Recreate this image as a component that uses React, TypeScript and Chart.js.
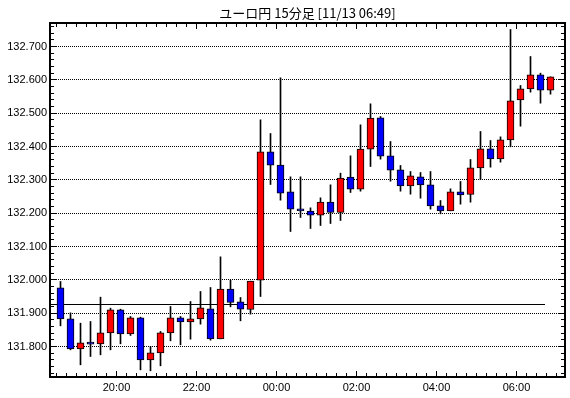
import React, { useEffect, useRef } from "react";
import { Chart, registerables } from "chart.js";

Chart.register(...registerables);

const TITLE = "ユーロ円 15分足 [11/13 06:49]";

// 15-minute candles, 18:30 .. 06:45
const OPEN = [
  131.976, 131.883, 131.793, 131.811, 131.808, 131.841, 131.910, 131.838, 131.886, 131.760,
  131.781, 131.841, 131.886, 131.874, 131.883, 131.913, 131.823, 131.972, 131.934, 131.911,
  131.999, 132.384, 132.344, 132.264, 132.213, 132.206, 132.194, 132.233, 132.202, 132.308,
  132.272, 132.392, 132.486, 132.372, 132.330, 132.282, 132.309, 132.285, 132.222, 132.207,
  132.264, 132.256, 132.336, 132.393, 132.363, 132.420, 132.540, 132.573, 132.615, 132.569,
];
const HIGH = [
  131.995, 131.901, 131.870, 131.875, 131.948, 131.915, 131.912, 131.890, 131.888, 131.800,
  131.845, 131.920, 131.890, 131.935, 131.965, 131.977, 132.069, 131.999, 131.947, 131.996,
  132.480, 132.439, 132.606, 132.309, 132.309, 132.216, 132.246, 132.285, 132.320, 132.372,
  132.465, 132.528, 132.490, 132.415, 132.343, 132.325, 132.322, 132.325, 132.238, 132.273,
  132.295, 132.361, 132.445, 132.418, 132.429, 132.751, 132.583, 132.670, 132.620, 132.609,
];
const LOW = [
  131.862, 131.790, 131.745, 131.770, 131.775, 131.790, 131.808, 131.833, 131.730, 131.727,
  131.742, 131.817, 131.805, 131.822, 131.867, 131.819, 131.823, 131.919, 131.877, 131.897,
  131.950, 132.286, 132.239, 132.145, 132.187, 132.154, 132.163, 132.169, 132.178, 132.262,
  132.266, 132.340, 132.362, 132.296, 132.266, 132.257, 132.245, 132.212, 132.198, 132.207,
  132.227, 132.233, 132.301, 132.338, 132.353, 132.399, 132.461, 132.563, 132.530, 132.557,
];
const CLOSE = [
  131.883, 131.793, 131.811, 131.807, 131.841, 131.910, 131.838, 131.886, 131.760, 131.781,
  131.841, 131.886, 131.874, 131.883, 131.916, 131.823, 131.972, 131.932, 131.912, 131.996,
  132.384, 132.344, 132.260, 132.212, 132.207, 132.194, 132.233, 132.202, 132.305, 132.272,
  132.392, 132.485, 132.371, 132.329, 132.282, 132.312, 132.285, 132.222, 132.207, 132.264,
  132.255, 132.336, 132.393, 132.363, 132.420, 132.537, 132.573, 132.615, 132.569, 132.609,
];

const TIME_LABELS = ["20:00", "22:00", "00:00", "02:00", "04:00", "06:00"];
const TIME_LABEL_SLOTS = [6, 14, 22, 30, 38, 46];
const Y_TICKS = [131.8, 131.9, 132.0, 132.1, 132.2, 132.3, 132.4, 132.5, 132.6, 132.7];
const REF_LEVEL = 131.926;
const REF_END_SLOT = 48.45;

const X_MIN = -1.05;
const X_MAX = 50.45;
const Y_MIN = 131.7085;
const Y_MAX = 132.7705;
const TICK_SHIFT = -0.4;

const UP = "#ff0000";
const DOWN = "#0000ff";

const framePlugin = {
  id: "frameTicks",
  afterDatasetsDraw(chart: any) {
    const { ctx, chartArea: a, scales } = chart;
    const xs = scales.x;
    const ys = scales.y;
    ctx.save();
    ctx.strokeStyle = "#000";
    ctx.lineWidth = 1;
    ctx.beginPath();
    for (let k = 0; k <= 50; k++) {
      const px = Math.round(xs.getPixelForValue(k + TICK_SHIFT) - 0.5) + 0.5;
      const len = TIME_LABEL_SLOTS.includes(k) ? 6 : 4;
      ctx.moveTo(px, a.top);
      ctx.lineTo(px, a.top + len);
      ctx.moveTo(px, a.bottom);
      ctx.lineTo(px, a.bottom - len);
    }
    for (let n = 6586; n <= 6638; n++) {
      const v = n * 0.02;
      const py = Math.round(ys.getPixelForValue(v) - 0.5) + 0.5;
      const len = n % 5 === 0 ? 6 : 4;
      ctx.moveTo(a.left, py);
      ctx.lineTo(a.left + len, py);
      ctx.moveTo(a.right, py);
      ctx.lineTo(a.right - len, py);
    }
    ctx.stroke();
    ctx.lineWidth = 2;
    ctx.strokeRect(a.left, a.top, a.right - a.left, a.bottom - a.top);
    ctx.restore();
  },
};

export default function App() {
  const ref = useRef<HTMLCanvasElement | null>(null);

  useEffect(() => {
    document.body.style.margin = "0";
    const canvas = ref.current;
    if (!canvas) return;

    const idx = OPEN.map((_, i) => i);
    const colors = idx.map((i) => (CLOSE[i] >= OPEN[i] ? UP : DOWN));

    const chart = new Chart(canvas, {
      type: "bar",
      data: {
        datasets: [
          {
            type: "bar",
            label: "body",
            data: idx.map((i) => ({ x: i, y: [OPEN[i], CLOSE[i]] })) as any,
            backgroundColor: colors,
            borderColor: "#000",
            borderWidth: 1,
            borderSkipped: false,
            barThickness: 7,
            minBarLength: 2,
            grouped: false,
            order: 1,
          } as any,
          {
            type: "bar",
            label: "wick",
            data: idx.map((i) => ({ x: i, y: [LOW[i], HIGH[i]] })) as any,
            backgroundColor: "#000",
            borderWidth: 0,
            barThickness: 1,
            grouped: false,
            order: 2,
          } as any,
          {
            type: "line",
            label: "ref",
            data: [
              { x: X_MIN, y: REF_LEVEL },
              { x: REF_END_SLOT, y: REF_LEVEL },
            ],
            borderColor: "#000",
            borderWidth: 1,
            pointRadius: 0,
            order: 3,
          } as any,
        ],
      },
      options: {
        responsive: false,
        animation: false,
        devicePixelRatio: 1,
        layout: { padding: { left: 0, right: 5, top: 0, bottom: 0 } },
        plugins: {
          legend: { display: false },
          tooltip: { enabled: false },
          title: {
            display: true,
            text: TITLE,
            fullSize: false,
            color: "#000",
            font: { family: "'Noto Sans CJK JP', sans-serif", size: 13, weight: "normal", lineHeight: 1.2 },
            padding: { top: 5, bottom: 2.4 },
          },
        },
        scales: {
          x: {
            type: "linear",
            min: X_MIN,
            max: X_MAX,
            offset: false,
            grid: { display: false, drawTicks: false },
            border: { display: false },
            afterBuildTicks: (scale: any) => {
              scale.ticks = TIME_LABEL_SLOTS.map((k) => ({ value: k + TICK_SHIFT }));
            },
            afterFit: (scale: any) => {
              scale.height = 21;
            },
            ticks: {
              autoSkip: false,
              maxRotation: 0,
              minRotation: 0,
              padding: 4,
              color: "#000",
              font: { family: "'Liberation Sans', Arial, sans-serif", size: 11 },
              callback: (_v: any, i: number) => TIME_LABELS[i],
            },
          },
          y: {
            type: "linear",
            min: Y_MIN,
            max: Y_MAX,
            grid: { color: "#000", lineWidth: 1, drawTicks: false },
            border: { display: false, dash: [1, 1] },
            afterBuildTicks: (scale: any) => {
              scale.ticks = Y_TICKS.map((v) => ({ value: v }));
            },
            afterFit: (scale: any) => {
              scale.width = 50;
            },
            ticks: {
              padding: 3,
              color: "#000",
              font: { family: "'Liberation Sans', Arial, sans-serif", size: 11 },
              callback: (v: any) => Number(v).toFixed(3),
            },
          },
        },
      },
      plugins: [framePlugin],
    } as any);

    return () => chart.destroy();
  }, []);

  return (
    <canvas
      ref={ref}
      width={570}
      height={398}
      style={{ display: "block", width: 570, height: 398 }}
    />
  );
}
